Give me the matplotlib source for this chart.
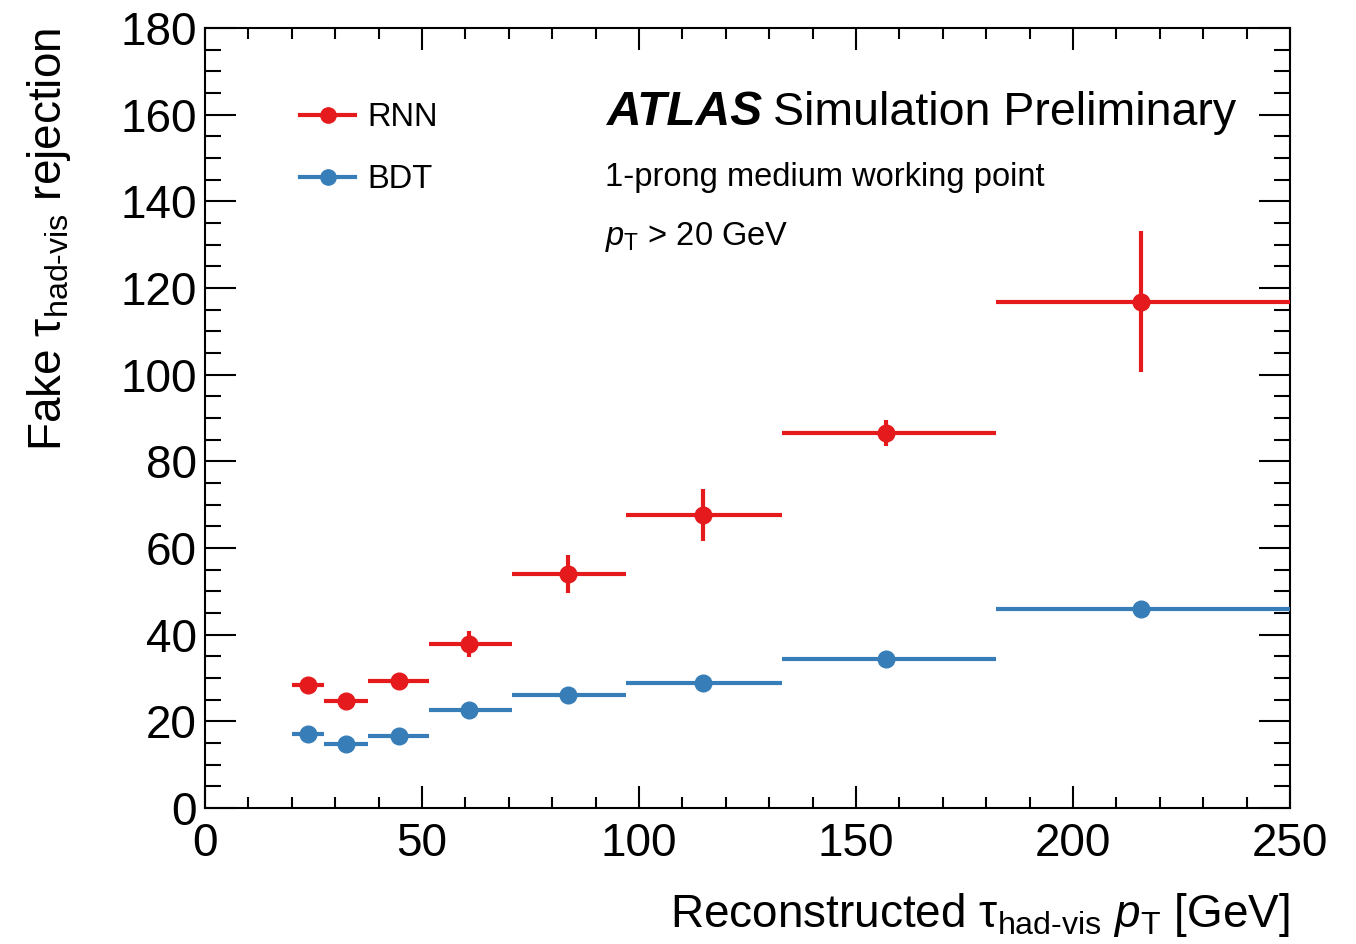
import matplotlib
matplotlib.use('Agg')
import matplotlib.pyplot as plt
from matplotlib.lines import Line2D
from matplotlib.ticker import MultipleLocator
import numpy as np

plt.rcParams['font.family'] = ['Liberation Sans', 'DejaVu Sans']
plt.rcParams['mathtext.fontset'] = 'custom'
plt.rcParams['mathtext.rm'] = 'Liberation Sans'
plt.rcParams['mathtext.it'] = 'Liberation Sans:italic'
plt.rcParams['mathtext.bf'] = 'Liberation Sans:bold'

# ── data ─────────────────────────────────────────────────────────────
bin_edges = [20, 27.4, 37.6, 51.6, 70.7, 96.9, 132.9, 182.2, 250]
pt_mean   = [23.7, 32.5, 44.7, 60.8, 83.6, 114.7, 157.0, 215.7]

rnn_val = [28.4, 24.7, 29.3, 37.8, 54.0, 67.6, 86.5, 116.8]
rnn_err = [1.0, 1.0, 1.2, 3.0, 4.3, 6.0, 3.0, 16.3]

bdt_val = [17.1, 14.8, 16.6, 22.6, 26.1, 28.8, 34.4, 45.9]
bdt_err = [0.4, 0.4, 0.5, 0.7, 0.8, 1.5, 1.0, 1.6]

RED = '#e41a1c'
BLUE = '#377eb8'

W, H, DPI = 1356, 944, 100
fig = plt.figure(figsize=(W/DPI, H/DPI), dpi=DPI)
ax = fig.add_axes([205/W, 1 - 808/H, (1290 - 205)/W, (808 - 28)/H])

edges = np.array(bin_edges)
x = np.array(pt_mean)
xerr = [x - edges[:-1], edges[1:] - x]

for val, err, col in [(rnn_val, rnn_err, RED), (bdt_val, bdt_err, BLUE)]:
    ax.errorbar(x, val, yerr=err, xerr=xerr, fmt='o', color=col,
                ms=12, elinewidth=3, capsize=0, zorder=3)

ax.set_xlim(0, 250)
ax.set_ylim(0, 180)
ax.xaxis.set_major_locator(MultipleLocator(50))
ax.xaxis.set_minor_locator(MultipleLocator(10))
ax.yaxis.set_major_locator(MultipleLocator(20))
ax.yaxis.set_minor_locator(MultipleLocator(5))
ax.tick_params(which='both', direction='in', top=True, right=True, width=1.5,
               labelsize=33)
ax.tick_params(axis='x', which='major', length=16, pad=10)
ax.tick_params(axis='x', which='minor', length=8)
ax.tick_params(axis='y', which='major', length=22, pad=6)
ax.tick_params(axis='y', which='minor', length=11.5)
for s in ax.spines.values():
    s.set_linewidth(1.5)

ax.set_xlabel('Reconstructed τ$_{\\mathrm{had}\\text{-}\\mathrm{vis}}$ $p_{\\mathrm{T}}$ [GeV]',
              fontsize=33, loc='right', labelpad=18)
ax.set_ylabel('Fake τ$_{\\mathrm{had}\\text{-}\\mathrm{vis}}$ rejection',
              fontsize=33, loc='top', labelpad=34)

# ATLAS label
ax.text(607/W, 1 - 125/H, 'ATLAS', transform=fig.transFigure, fontsize=34.5,
        fontweight='bold', style='italic', ha='left', va='baseline')
ax.text(773/W, 1 - 125/H, 'Simulation Preliminary', transform=fig.transFigure,
        fontsize=33.5, ha='left', va='baseline')
ax.text(605/W, 1 - 186/H, '1-prong medium working point', transform=fig.transFigure,
        fontsize=23.5, ha='left', va='baseline')
ax.text(605/W, 1 - 245/H, '$p_{\\mathrm{T}}$ > 20 GeV', transform=fig.transFigure,
        fontsize=23.5, ha='left', va='baseline')

handles = [Line2D([], [], color=RED, marker='o', ms=11, lw=3),
           Line2D([], [], color=BLUE, marker='o', ms=11, lw=3)]
ax.legend(handles, ['RNN', 'BDT'], loc='upper left', frameon=False,
          bbox_to_anchor=(300/W, 1 - 102/H), bbox_transform=fig.transFigure,
          fontsize=23.5, handlelength=1.7, handletextpad=0.35, labelspacing=0.95,
          borderaxespad=0, borderpad=0)

fig.savefig('out.png', dpi=DPI, facecolor='white')
